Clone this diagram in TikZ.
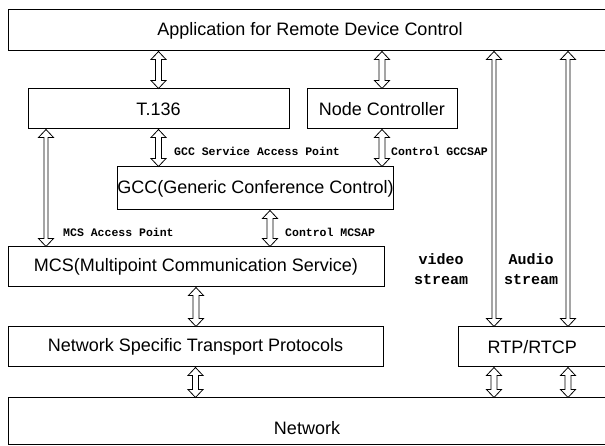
\documentclass[tikz,border=0pt]{standalone}
\usepackage{fontspec}
\setmainfont{Liberation Sans}
\setmonofont{Liberation Mono}
\usetikzlibrary{calc}

\begin{document}
\begin{tikzpicture}[x=1pt, y=1pt,
  box/.style={draw, line width=1pt, inner sep=0pt, font=\fontsize{18}{21}\selectfont},
  arr/.style={draw, line width=0.8pt, fill=white,
    to path={let \p1=(\tikztostart), \p2=(\tikztotarget) in
      (\x1,\y1) -- (\x1+7.5pt,\y1-8pt) -- (\x1+#1,\y1-8pt) -- (\x1+#1,\y2+8pt)
      -- (\x1+7.5pt,\y2+8pt) -- (\x1,\y2) -- (\x1-7.5pt,\y2+8pt) -- (\x1-#1,\y2+8pt)
      -- (\x1-#1,\y1-8pt) -- (\x1-7.5pt,\y1-8pt) -- cycle}},
  arr/.default=3pt,
  sap/.style={anchor=west, inner sep=0pt, font=\fontsize{11.5}{13}\selectfont\ttfamily\bfseries},
  stream/.style={align=center, inner sep=0pt, font=\fontsize{15}{20}\selectfont\ttfamily\bfseries}]
  \clip (0,0) rectangle (605,446);
  % layers
  \node[box, minimum width=604, minimum height=41] (app) at (310,415.5) {Application for Remote Device Control};
  \node[box, minimum width=261, minimum height=40] (t136) at (158.5,337) {T.136};
  \node[box, minimum width=150, minimum height=40] (nc) at (382,337) {Node Controller};
  \node[box, minimum width=269, minimum height=43] (gcc) at (255.5,257.5) {GCC(Generic Conference Control)};
  \node[box, minimum width=376, minimum height=40] (mcs) at (196,179) {MCS(Multipoint Communication Service)};
  \node[box, minimum width=375, minimum height=40] (nstp) at (195.5,99) {Network Specific Transport Protocols};
  \node[box, minimum width=148.5, minimum height=40] (rtp) at (532.25,99) {RTP/RTCP};
  \node[box, minimum width=604, minimum height=47] (net) at (310,24.5) {};
  \node[font=\fontsize{18}{21}\selectfont] (nettext) at (307,18) {Network};
  % x positions of the side arrows
  \coordinate (mcsap) at (46,0);
  \coordinate (ctrl) at (270,0);
  \coordinate (video) at (494,0);
  \coordinate (audio) at (568,0);
  % arrows
  \draw[arr] (app.south -| t136) to (t136.north);
  \draw[arr] (app.south -| nc) to (nc.north);
  \draw[arr=2pt] (app.south -| video) to (rtp.north -| video);
  \draw[arr=2pt] (app.south -| audio) to (rtp.north -| audio);
  \draw[arr=2pt] (t136.south -| mcsap) to (mcs.north -| mcsap);
  \draw[arr] (t136.south) to (gcc.north -| t136);
  \draw[arr] (nc.south) to (gcc.north -| nc);
  \draw[arr] (gcc.south -| ctrl) to (mcs.north -| ctrl);
  \draw[arr] (mcs.south) to (nstp.north -| mcs);
  \draw[arr] (nstp.south) to (net.north -| nstp);
  \draw[arr] (rtp.south -| video) to (net.north -| video);
  \draw[arr] (rtp.south -| audio) to (net.north -| audio);
  % labels
  \node[sap] (gccsap) at (174,295) {GCC Service Access Point};
  \node[sap] (ctrlgccsap) at (391,295) {Control GCCSAP};
  \node[sap] (mcsaptext) at (63,214) {MCS Access Point};
  \node[sap] (ctrlmcsap) at (285,214) {Control MCSAP};
  \node[stream] (videotext) at (441,177) {video\\stream};
  \node[stream] (audiotext) at (531,177) {Audio\\stream};
\end{tikzpicture}
\end{document}
